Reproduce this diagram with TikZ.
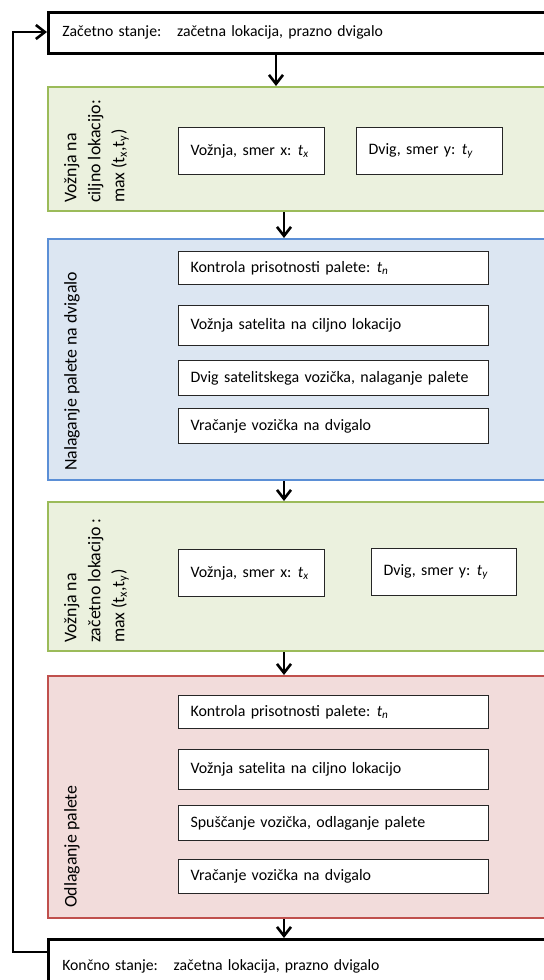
\documentclass[tikz,border=0pt]{standalone}
\usepackage{fontspec}
\setmainfont{Carlito}
\usetikzlibrary{arrows.meta}
\definecolor{grnB}{HTML}{9BBB59}
\definecolor{grnF}{HTML}{EBF1DE}
\definecolor{bluB}{HTML}{5B8FD6}
\definecolor{bluF}{HTML}{DCE6F2}
\definecolor{redB}{HTML}{C0504D}
\definecolor{redF}{HTML}{F2DCDB}
\tikzset{
  statebox/.style={draw=black, line width=2.6bp, fill=white, anchor=north west, inner xsep=14bp, inner ysep=0pt,
    text width=512bp, align=left, font=\fontsize{15.8}{18}\selectfont},
  grp/.style={line width=2.4bp, anchor=north west, minimum width=540bp, inner sep=0pt},
  task/.style={draw=black!85, line width=1.1bp, fill=white, anchor=north west, inner xsep=12bp, inner ysep=0pt,
    align=left, font=\fontsize{16}{18}\selectfont},
  rot/.style={rotate=90, anchor=north west, inner sep=0pt, align=left, font=\fontsize{17.9}{24}\selectfont},
  arr/.style={line width=2.6bp, -{Straight Barb[length=9bp,width=14bp]}},
}
\newcommand{\tsub}[2]{\kern-1.5bp\textit{#1}\textsubscript{\textit{#2}}}
\begin{document}
\begin{tikzpicture}[x=1bp,y=-1bp]
\useasboundingbox (0,0) rectangle (544,980);
\clip (0,0) rectangle (544,980);
% start / end state
\node[statebox, minimum height=41bp] (top) at (47,11) {Začetno stanje:\ \ \ začetna lokacija, prazno dvigalo};
\node[statebox, minimum height=60bp] (bot) at (47,938) {\raisebox{8bp}{Končno stanje:\ \ \ začetna lokacija, prazno dvigalo}};
% groups
\node[grp, draw=grnB, fill=grnF, minimum height=124bp] (g1) at (47,86) {};
\node[grp, draw=bluB, fill=bluF, minimum height=241bp] (g2) at (47,238) {};
\node[grp, draw=grnB, fill=grnF, minimum height=149bp] (g3) at (47,501) {};
\node[grp, draw=redB, fill=redF, minimum height=242bp] (g4) at (47,675) {};
% group labels
\node[rot] (l1) at (64,203) {Vožnja na\\ciljno lokacijo:\\max (t\textsubscript{x},t\textsubscript{y})};
\node[rot] (l2) at (64,471) {Nalaganje palete na dvigalo};
\node[rot] (l3) at (64,643) {Vožnja na\\začetno lokacijo :\\max (t\textsubscript{x},t\textsubscript{y})};
\node[rot] (l4) at (64,908) {Odlaganje palete};
% green 1 tasks
\node[task, text width=122bp, minimum height=47bp] (a1) at (178,127) {\raisebox{3bp}{Vožnja, smer x: \tsub{t}{x}}};
\node[task, text width=122bp, minimum height=47bp] (a2) at (356,127) {\raisebox{3bp}{Dvig, smer y: \tsub{t}{y}}};
% blue tasks
\node[task, text width=286bp, minimum height=33bp] (b1) at (178,251) {Kontrola prisotnosti palete: \tsub{t}{n}};
\node[task, text width=286bp, minimum height=40bp] (b2) at (178,305) {Vožnja satelita na ciljno lokacijo};
\node[task, text width=286bp, minimum height=35bp] (b3) at (178,360) {Dvig satelitskega vozička, nalaganje palete};
\node[task, text width=286bp, minimum height=35bp] (b4) at (178,408) {Vračanje vozička na dvigalo};
% green 2 tasks
\node[task, text width=122bp, minimum height=47bp] (c1) at (178,549) {\raisebox{3bp}{Vožnja, smer x: \tsub{t}{x}}};
\node[task, text width=121bp, minimum height=47bp] (c2) at (371,548) {\raisebox{3bp}{Dvig, smer y: \tsub{t}{y}}};
% red tasks
\node[task, text width=286bp, minimum height=33bp] (d1) at (178,695) {Kontrola prisotnosti palete: \tsub{t}{n}};
\node[task, text width=286bp, minimum height=40bp] (d2) at (178,749) {Vožnja satelita na ciljno lokacijo};
\node[task, text width=286bp, minimum height=35bp] (d3) at (178,805) {Spuščanje vozička, odlaganje palete};
\node[task, text width=286bp, minimum height=34bp] (d4) at (178,859) {Vračanje vozička na dvigalo};
% connectors
\draw[arr] (top.south -| 276,0) -- (g1.north -| 276,0);
\draw[arr] (g1.south -| 284,0) -- (g2.north -| 284,0);
\draw[arr] (g2.south -| 284,0) -- (g3.north -| 284,0);
\draw[arr] (g3.south -| 284,0) -- (g4.north -| 284,0);
\draw[arr] (g4.south -| 284,0) -- (bot.north -| 284,0);
\draw[arr] (bot.west |- 0,952) -- (13,952) -- (13,32) -- (top.west |- 0,32);
\end{tikzpicture}
\end{document}
